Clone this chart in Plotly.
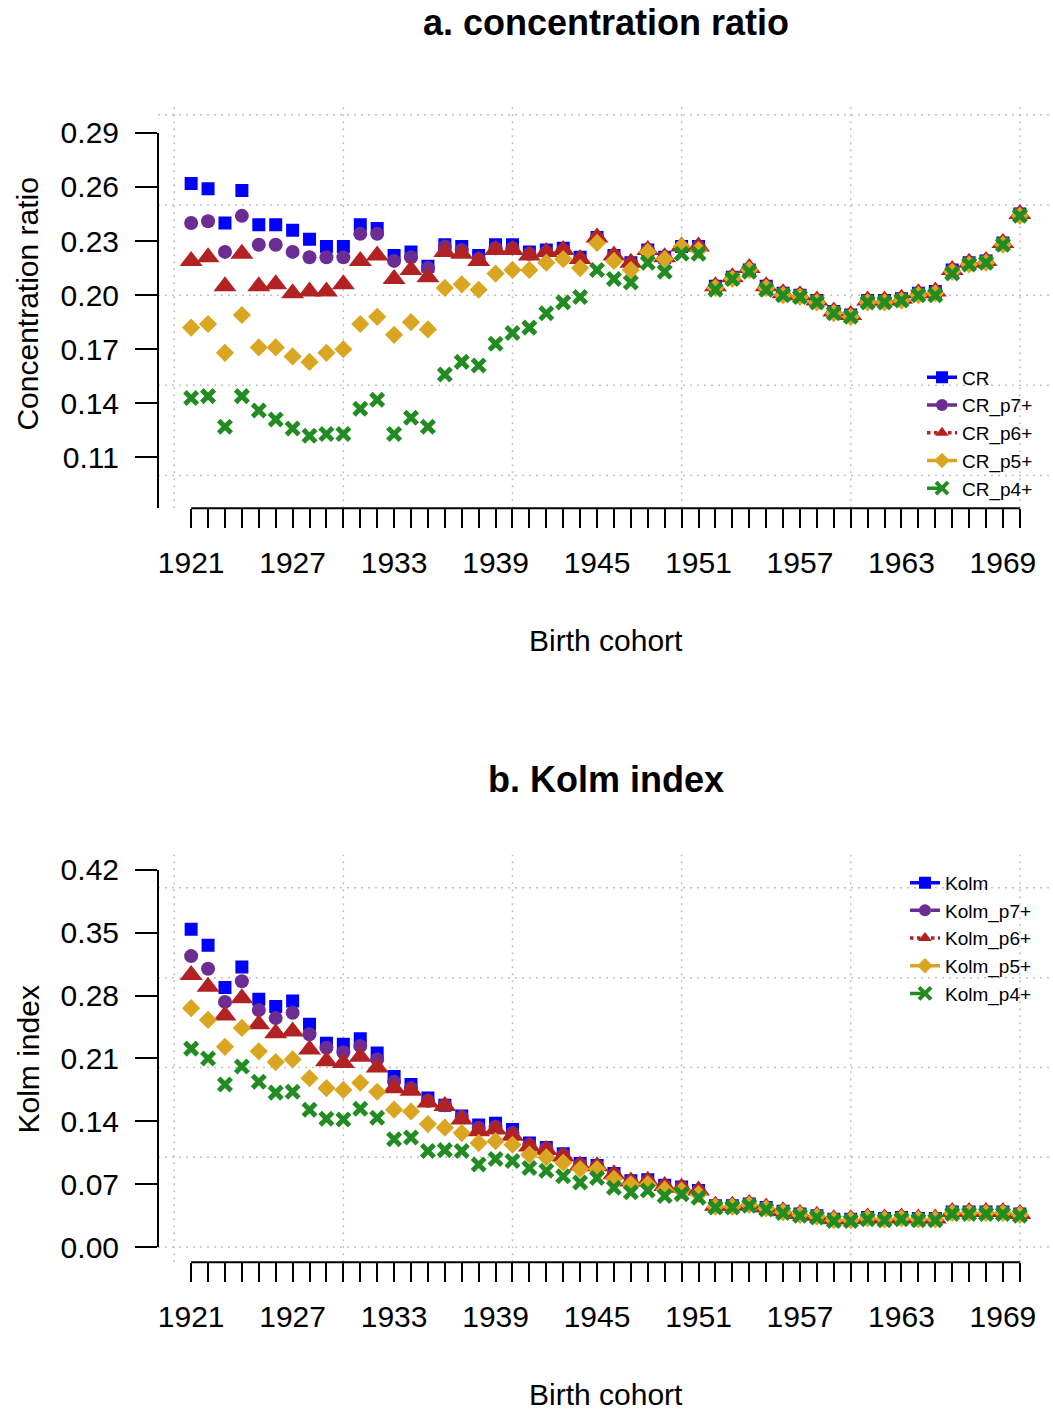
import plotly.graph_objects as go

# Birth cohorts on the x axis
years = list(range(1921, 1971))
year_labels = [str(y) if (y - 1921) % 6 == 0 else "" for y in years]

# Panel a: concentration ratio by birth cohort
cr = [0.262, 0.259, 0.240, 0.258, 0.239, 0.239, 0.236, 0.231, 0.227, 0.227,
      0.239, 0.237, 0.222, 0.224, 0.216, 0.228, 0.227, 0.222, 0.228, 0.228,
      0.224, 0.225, 0.226, 0.221, 0.232, 0.222, 0.218, 0.225, 0.221, 0.227,
      0.227, 0.205, 0.210, 0.214, 0.205, 0.201, 0.200, 0.197, 0.191, 0.189,
      0.197, 0.197, 0.198, 0.201, 0.202, 0.214, 0.218, 0.219, 0.229, 0.245]
cr_p7 = [0.240, 0.241, 0.224, 0.244, 0.228, 0.228, 0.224, 0.221, 0.221, 0.221,
         0.234, 0.234, 0.219, 0.221, 0.215, 0.227, 0.225, 0.220, 0.226, 0.226,
         0.223, 0.224, 0.225, 0.220, 0.232, 0.222, 0.218, 0.225, 0.221, 0.227,
         0.227, 0.205, 0.210, 0.214, 0.205, 0.201, 0.200, 0.197, 0.191, 0.189,
         0.197, 0.197, 0.198, 0.201, 0.202, 0.214, 0.218, 0.219, 0.229, 0.245]
cr_p6 = [0.219, 0.221, 0.205, 0.223, 0.205, 0.206, 0.201, 0.202, 0.202, 0.206,
         0.219, 0.222, 0.209, 0.214, 0.210, 0.224, 0.223, 0.219, 0.225, 0.225,
         0.222, 0.224, 0.225, 0.220, 0.232, 0.222, 0.218, 0.225, 0.221, 0.227,
         0.227, 0.205, 0.210, 0.215, 0.205, 0.201, 0.200, 0.197, 0.191, 0.189,
         0.197, 0.197, 0.198, 0.201, 0.202, 0.214, 0.218, 0.219, 0.229, 0.245]
cr_p5 = [0.182, 0.184, 0.168, 0.189, 0.171, 0.171, 0.166, 0.163, 0.168, 0.170,
         0.184, 0.188, 0.178, 0.185, 0.181, 0.204, 0.206, 0.203, 0.212, 0.214,
         0.214, 0.218, 0.220, 0.215, 0.229, 0.219, 0.214, 0.224, 0.220, 0.227,
         0.225, 0.204, 0.209, 0.214, 0.204, 0.200, 0.199, 0.196, 0.190, 0.188,
         0.196, 0.196, 0.197, 0.200, 0.201, 0.213, 0.217, 0.218, 0.228, 0.244]
cr_p4 = [0.143, 0.144, 0.127, 0.144, 0.136, 0.131, 0.126, 0.122, 0.123, 0.123,
         0.137, 0.142, 0.123, 0.132, 0.127, 0.156, 0.163, 0.161, 0.173, 0.179,
         0.182, 0.190, 0.196, 0.199, 0.214, 0.209, 0.207, 0.218, 0.213, 0.223,
         0.223, 0.203, 0.209, 0.213, 0.203, 0.200, 0.199, 0.196, 0.190, 0.188,
         0.196, 0.196, 0.197, 0.200, 0.200, 0.212, 0.217, 0.218, 0.228, 0.244]

# Panel b: Kolm index by birth cohort
kolm = [0.354, 0.336, 0.289, 0.312, 0.276, 0.268, 0.274, 0.248, 0.227, 0.226,
        0.232, 0.216, 0.190, 0.181, 0.166, 0.158, 0.146, 0.136, 0.138, 0.131,
        0.116, 0.111, 0.104, 0.093, 0.091, 0.082, 0.074, 0.075, 0.069, 0.067,
        0.063, 0.046, 0.046, 0.048, 0.044, 0.040, 0.037, 0.035, 0.031, 0.031,
        0.033, 0.032, 0.033, 0.032, 0.032, 0.039, 0.039, 0.039, 0.039, 0.037]
kolm_p7 = [0.324, 0.310, 0.273, 0.296, 0.264, 0.255, 0.261, 0.237, 0.222, 0.217,
           0.224, 0.209, 0.184, 0.177, 0.163, 0.158, 0.145, 0.133, 0.134, 0.127,
           0.114, 0.110, 0.103, 0.092, 0.090, 0.081, 0.073, 0.074, 0.068, 0.067,
           0.063, 0.046, 0.046, 0.048, 0.044, 0.040, 0.037, 0.035, 0.031, 0.031,
           0.033, 0.032, 0.033, 0.032, 0.032, 0.039, 0.039, 0.039, 0.039, 0.037]
kolm_p6 = [0.303, 0.290, 0.258, 0.277, 0.248, 0.238, 0.240, 0.220, 0.207, 0.205,
           0.212, 0.200, 0.177, 0.174, 0.161, 0.157, 0.142, 0.129, 0.131, 0.124,
           0.112, 0.108, 0.101, 0.091, 0.090, 0.081, 0.073, 0.074, 0.068, 0.066,
           0.063, 0.046, 0.046, 0.048, 0.044, 0.040, 0.037, 0.035, 0.031, 0.031,
           0.033, 0.032, 0.033, 0.032, 0.032, 0.039, 0.039, 0.039, 0.039, 0.037]
kolm_p5 = [0.266, 0.253, 0.223, 0.244, 0.218, 0.206, 0.209, 0.188, 0.177, 0.175,
           0.183, 0.173, 0.153, 0.151, 0.137, 0.133, 0.127, 0.116, 0.118, 0.114,
           0.103, 0.100, 0.094, 0.087, 0.087, 0.076, 0.070, 0.070, 0.064, 0.063,
           0.059, 0.045, 0.045, 0.047, 0.043, 0.039, 0.036, 0.034, 0.030, 0.030,
           0.032, 0.031, 0.032, 0.031, 0.031, 0.038, 0.038, 0.038, 0.038, 0.036]
kolm_p4 = [0.221, 0.210, 0.181, 0.201, 0.184, 0.172, 0.173, 0.153, 0.143, 0.142,
           0.154, 0.144, 0.120, 0.122, 0.107, 0.108, 0.107, 0.092, 0.098, 0.096,
           0.088, 0.085, 0.079, 0.072, 0.077, 0.066, 0.061, 0.063, 0.057, 0.059,
           0.055, 0.044, 0.044, 0.046, 0.042, 0.038, 0.035, 0.033, 0.029, 0.029,
           0.031, 0.030, 0.031, 0.030, 0.030, 0.037, 0.037, 0.037, 0.037, 0.035]

top_ticks = [0.11, 0.14, 0.17, 0.20, 0.23, 0.26, 0.29]
bot_ticks = [0.00, 0.07, 0.14, 0.21, 0.28, 0.35, 0.42]

W, H = 1053, 1412
FONT = "Liberation Sans, Arial, sans-serif"


def fx(p):
    return p / W


def fy(p):
    return 1 - p / H


# series styles: colour, marker symbol, size, dash
styles = [
    ("#0000FF", "square", 13, "solid"),
    ("#6B2D94", "circle", 14, "dash"),
    ("#B22222", "triangle-up", 20, "dot"),
    ("#DAA520", "diamond", 14, "dashdot"),
    ("#228B22", "x-thin", 12.5, "longdash"),
]

panels = [
    ("x", "y", "legend", [cr, cr_p7, cr_p6, cr_p5, cr_p4],
     ["CR", "CR_p7+", "CR_p6+", "CR_p5+", "CR_p4+"]),
    ("x2", "y2", "legend2", [kolm, kolm_p7, kolm_p6, kolm_p5, kolm_p4],
     ["Kolm", "Kolm_p7+", "Kolm_p6+", "Kolm_p5+", "Kolm_p4+"]),
]

fig = go.Figure()
for xa, ya, leg, series, names in panels:
    for vals, name, (col, sym, size, dash) in zip(series, names, styles):
        marker = dict(color=col, symbol=sym, size=size)
        if sym == "x-thin":
            marker["line"] = dict(color=col, width=5)
        fig.add_trace(go.Scatter(
            x=years, y=vals, mode="markers", marker=marker,
            xaxis=xa, yaxis=ya, showlegend=False, name=name,
        ))
    # legend keys showing line type together with the point symbol
    for name, (col, sym, size, dash) in zip(names, styles):
        marker = dict(color=col, symbol=sym, size=min(size, 12))
        if sym == "x-thin":
            marker["line"] = dict(color=col, width=4)
        fig.add_trace(go.Scatter(
            x=[None], y=[None], mode="lines+markers", name=name,
            line=dict(color=col, width=3.5, dash=dash), marker=marker,
            xaxis=xa, yaxis=ya, legend=leg, showlegend=True,
        ))

x_dom = [fx(158), 1.0]
x_range = [1919.04, 1971.96]

common_x = dict(
    domain=x_dom, range=x_range, tickmode="array", tickvals=years,
    ticktext=year_labels, ticks="outside", ticklen=19, tickwidth=2,
    tickcolor="black", showline=False, showgrid=False, zeroline=False,
    tickfont=dict(family=FONT, size=30, color="black"),
    ticklabelstandoff=9,
)
common_y = dict(
    ticks="outside", ticklen=22, tickwidth=2, tickcolor="black",
    showline=False, showgrid=False, zeroline=False, tickmode="array",
    tickfont=dict(family=FONT, size=30, color="black"),
    ticklabelstandoff=10,
)

legend_style = dict(xanchor="left", yanchor="top", bgcolor="rgba(0,0,0,0)",
                    font=dict(family=FONT, size=19), tracegroupgap=0,
                    itemwidth=30)

fig.update_layout(
    width=W, height=H, margin=dict(l=0, r=0, t=0, b=0),
    paper_bgcolor="white", plot_bgcolor="white",
    font=dict(family=FONT, color="black"),
    xaxis=dict(anchor="y", **common_x),
    xaxis2=dict(anchor="y2", **common_x),
    yaxis=dict(anchor="x", domain=[fy(508), fy(105)], range=[0.0818, 0.305],
               tickvals=top_ticks, ticktext=[f"{v:.2f}" for v in top_ticks],
               **common_y),
    yaxis2=dict(anchor="x2", domain=[fy(1263), fy(855)], range=[-0.0168, 0.4368],
                tickvals=bot_ticks, ticktext=[f"{v:.2f}" for v in bot_ticks],
                **common_y),
    legend=dict(x=fx(922), y=fy(358), **legend_style),
    legend2=dict(x=fx(905), y=fy(864), **legend_style),
)

grid_line = dict(color="#C0C0C0", width=1.5, dash="2px,5px")
axis_line = dict(color="black", width=2)
shapes = []
for xa, ya, hvals, ybottom, ytop in [("x", "y", [0.10, 0.15, 0.20, 0.25, 0.30], 0.0818, 0.29),
                                     ("x2", "y2", [0.0, 0.1, 0.2, 0.3, 0.4], 0.0, 0.42)]:
    for gx in range(1920, 1971, 10):
        shapes.append(dict(type="line", xref=xa, yref=f"{ya} domain", x0=gx, x1=gx,
                           y0=0, y1=1, line=grid_line, layer="below"))
    for gy in hvals:
        shapes.append(dict(type="line", xref=f"{xa} domain", yref=ya, x0=0, x1=1,
                           y0=gy, y1=gy, line=grid_line, layer="below"))
    # R-style detached axis lines spanning the tick range
    shapes.append(dict(type="line", xref=xa, yref=f"{ya} domain", x0=years[0], x1=years[-1],
                       y0=0, y1=0, line=axis_line))
    shapes.append(dict(type="line", xref=f"{xa} domain", yref=ya, x0=0, x1=0,
                       y0=ybottom, y1=ytop, line=axis_line))
fig.update_layout(shapes=shapes)

ann = []
ann.append(dict(text="<b>a. concentration ratio</b>", x=fx(605.5), y=fy(22),
                font=dict(size=36)))
ann.append(dict(text="<b>b. Kolm index</b>", x=fx(605.5), y=fy(780),
                font=dict(size=36)))
ann.append(dict(text="Birth cohort", x=fx(605.5), y=fy(640), font=dict(size=30)))
ann.append(dict(text="Birth cohort", x=fx(605.5), y=fy(1395), font=dict(size=30)))
ann.append(dict(text="Concentration ratio", x=fx(28), y=fy(304), textangle=-90,
                font=dict(size=30)))
ann.append(dict(text="Kolm index", x=fx(28), y=fy(1060), textangle=-90,
                font=dict(size=30)))
for a in ann:
    a.update(xref="paper", yref="paper", showarrow=False, xanchor="center",
             yanchor="middle")
    a["font"].update(family=FONT, color="black")
fig.update_layout(annotations=ann)

fig.write_html("out.html")
